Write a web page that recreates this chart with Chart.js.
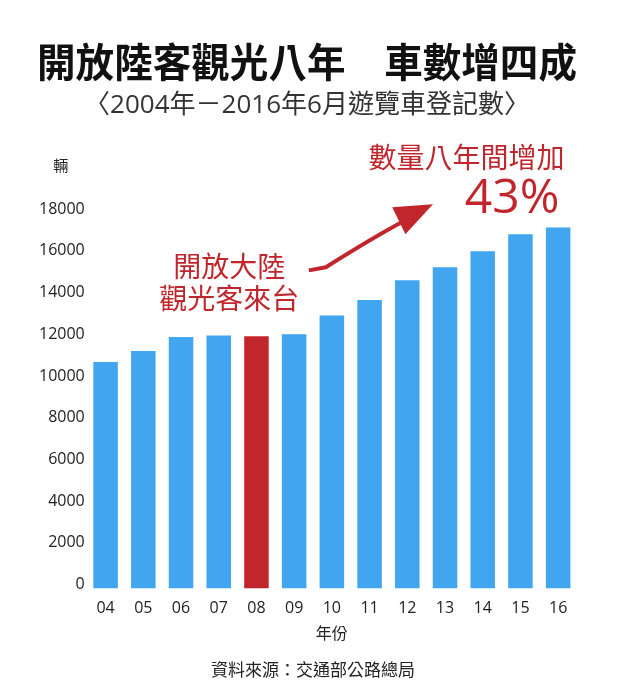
<!DOCTYPE html>
<html>
<head>
<meta charset="utf-8">
<script src="https://cdn.jsdelivr.net/npm/chart.js@4/dist/chart.umd.min.js"></script>
<style>
  html, body { margin: 0; padding: 0; background: #fff; }
  #wrap { width: 620px; height: 700px; }
</style>
</head>
<body>
<div id="wrap"><canvas id="myChart" width="620" height="700"></canvas></div>
<script>
// 2004 - 2016/6 tour bus registrations
const years = ['04', '05', '06', '07', '08', '09', '10', '11', '12', '13', '14', '15', '16'];
const buses = [10860, 11390, 12060, 12140, 12100, 12190, 13090, 13840, 14780, 15410, 16180, 16990, 17310];
const openYear = '08';
const yMax = 18000;
const yStep = 2000;

const BLUE = '#42a5f0';
const RED = '#c0262c';
const CJK = "'Noto Sans CJK TC', sans-serif";
const NUM = "'Open Sans', 'Noto Sans CJK TC', sans-serif";

// annotations, placed in data space (x = category index, y = vehicles)
const noteOpen = { x: 3.28, lines: [['開放大陸', 15460], ['觀光客來台', 13920]] };
const noteGrowth = { x: 9.57, y: 20690, text: '數量八年間增加' };
const notePct = { x: 10.78, y: 18670, text: '43%' };
const arrowPath = [[5.39, 15260], [5.84, 15410], [7.2, 16950], [7.95, 17660]];
const arrowHead = [[8.68, 18430], [7.6, 18290], [7.95, 16990]];

const extras = {
  id: 'extras',
  afterDraw(chart) {
    const ctx = chart.ctx;
    const xs = chart.scales.x;
    const ys = chart.scales.y;
    const px = (p) => [xs.getPixelForValue(p[0]), ys.getPixelForValue(p[1])];
    ctx.save();
    ctx.textAlign = 'center';
    ctx.textBaseline = 'middle';

    // unit label
    ctx.fillStyle = '#222';
    ctx.font = '15px ' + CJK;
    ctx.fillText('輛', chart.chartArea.left - 26, ys.getPixelForValue(yMax) - 48);

    // red notes
    ctx.fillStyle = RED;
    ctx.font = '28px ' + CJK;
    noteOpen.lines.forEach(function (l) {
      ctx.fillText(l[0], xs.getPixelForValue(noteOpen.x), ys.getPixelForValue(l[1]));
    });
    ctx.fillText(noteGrowth.text, xs.getPixelForValue(noteGrowth.x), ys.getPixelForValue(noteGrowth.y));
    ctx.font = '48px ' + NUM;
    ctx.fillText(notePct.text, xs.getPixelForValue(notePct.x), ys.getPixelForValue(notePct.y));

    // arrow
    const a = arrowPath.map(px);
    ctx.strokeStyle = RED;
    ctx.lineWidth = 4;
    ctx.lineJoin = 'round';
    ctx.beginPath();
    ctx.moveTo(a[0][0], a[0][1]);
    ctx.lineTo(a[1][0], a[1][1]);
    ctx.quadraticCurveTo(a[2][0], a[2][1], a[3][0], a[3][1]);
    ctx.stroke();
    const h = arrowHead.map(px);
    ctx.beginPath();
    ctx.moveTo(h[0][0], h[0][1]);
    ctx.lineTo(h[1][0], h[1][1]);
    ctx.lineTo(h[2][0], h[2][1]);
    ctx.closePath();
    ctx.fill();

    // source
    ctx.fillStyle = '#222';
    ctx.font = '17px ' + CJK;
    ctx.fillText('資料來源：交通部公路總局', chart.width / 2 + 3, chart.height - 30);
    ctx.restore();
  }
};

const config = {
  type: 'bar',
  data: {
    labels: years,
    datasets: [
      {
        data: buses,
        backgroundColor: years.map((y) => y === openYear ? RED : BLUE),
        barPercentage: 0.65,
        categoryPercentage: 1
      }
    ]
  },
  options: {
    responsive: false,
    animation: false,
    layout: {
      padding: { left: 37, right: 43, top: 0, bottom: 57 }
    },
    plugins: {
      legend: { display: false },
      tooltip: { enabled: false },
      title: {
        display: true,
        text: '開放陸客觀光八年　車數增四成',
        color: '#111',
        font: { family: CJK, size: 40, weight: 'bold', lineHeight: 1.2 },
        padding: { top: 38, bottom: 4 }
      },
      subtitle: {
        display: true,
        text: '〈2004年－2016年6月遊覽車登記數〉',
        color: '#333',
        font: { family: NUM, size: 26, lineHeight: 1.2 },
        padding: { top: 0, bottom: 92 }
      }
    },
    scales: {
      x: {
        grid: { display: false, drawTicks: false },
        border: { display: false },
        ticks: {
          color: '#222',
          font: { family: NUM, size: 16 },
          padding: 10
        },
        title: {
          display: true,
          text: '年份',
          color: '#222',
          font: { family: CJK, size: 16, lineHeight: 1.2 },
          padding: { top: -4, bottom: 0 }
        }
      },
      y: {
        min: 0,
        max: yMax,
        grid: { display: false, drawTicks: false },
        border: { display: false },
        ticks: {
          stepSize: yStep,
          color: '#222',
          padding: 2,
          labelOffset: -4,
          font: { family: NUM, size: 16 },
          callback: (v) => String(v)
        }
      }
    }
  },
  plugins: [extras]
};

const ctx = document.getElementById('myChart');
const myChart = new Chart(ctx, config);
</script>
</body>
</html>
